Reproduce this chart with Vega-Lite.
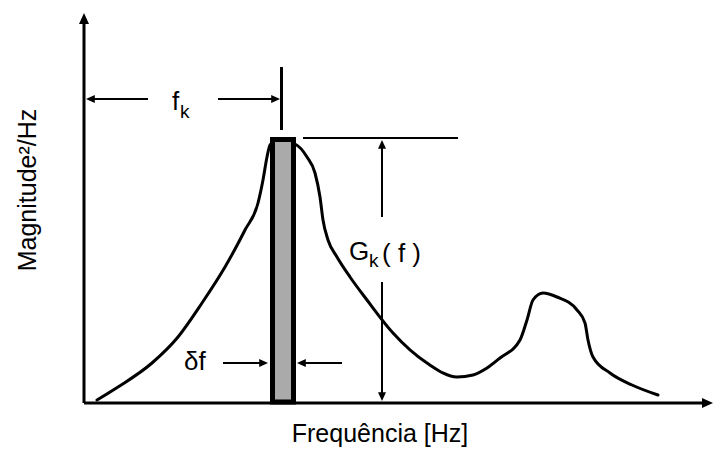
{
  "$schema": "https://vega.github.io/schema/vega-lite/v6.json",
  "width": 713,
  "height": 451,
  "padding": 0,
  "autosize": {"type": "fit", "contains": "padding"},
  "background": "white",
  "config": {"view": {"stroke": null}},
  "datasets": {
    "spectrum": [
      {"f": 13, "m": 3}, {"f": 34, "m": 16}, {"f": 68, "m": 40}, {"f": 94, "m": 66},
      {"f": 118, "m": 100}, {"f": 141, "m": 136}, {"f": 161, "m": 173}, {"f": 174, "m": 200},
      {"f": 179, "m": 223}, {"f": 183, "m": 246}, {"f": 186, "m": 258}, {"f": 191, "m": 262},
      {"f": 198, "m": 262}, {"f": 211, "m": 259}, {"f": 223, "m": 246}, {"f": 231, "m": 230},
      {"f": 236, "m": 206}, {"f": 239, "m": 183}, {"f": 244, "m": 163}, {"f": 253, "m": 146},
      {"f": 266, "m": 126}, {"f": 283, "m": 103}, {"f": 309, "m": 70}, {"f": 343, "m": 40},
      {"f": 373, "m": 26}, {"f": 389, "m": 28}, {"f": 403, "m": 35}, {"f": 416, "m": 45},
      {"f": 436, "m": 63}, {"f": 443, "m": 83}, {"f": 449, "m": 103}, {"f": 459, "m": 110},
      {"f": 473, "m": 106}, {"f": 493, "m": 93}, {"f": 501, "m": 80}, {"f": 504, "m": 63},
      {"f": 509, "m": 46}, {"f": 526, "m": 30}, {"f": 548, "m": 18}, {"f": 574, "m": 8}
    ],
    "band": [{"f": 188.5, "f2": 209.5, "m": 1, "m2": 263.5}],
    "axes": [
      {"f": 0, "m": 0, "f2": 0, "m2": 382},
      {"f": 0, "m": 0, "f2": 620, "m2": 0}
    ],
    "axisHeads": [
      {"f": 0, "m": 390, "dir": "up"},
      {"f": 629, "m": 0, "dir": "right"}
    ],
    "marker": [{"f": 197.5, "m": 273, "f2": 197.5, "m2": 336}],
    "guides": [
      {"f": 64, "m": 304, "f2": 6, "m2": 304},
      {"f": 134, "m": 304, "f2": 192, "m2": 304},
      {"f": 219, "m": 265, "f2": 374, "m2": 265},
      {"f": 298, "m": 186, "f2": 298, "m2": 258},
      {"f": 298, "m": 121, "f2": 298, "m2": 6},
      {"f": 139, "m": 40, "f2": 180, "m2": 40},
      {"f": 258, "m": 40, "f2": 217, "m2": 40}
    ],
    "guideHeads": [
      {"f": 2, "m": 304, "dir": "left"},
      {"f": 196, "m": 304, "dir": "right"},
      {"f": 298, "m": 263, "dir": "up"},
      {"f": 298, "m": 2, "dir": "down"},
      {"f": 184, "m": 40, "dir": "right"},
      {"f": 213, "m": 40, "dir": "left"}
    ],
    "labels": [
      {"f": 88, "m": 293, "text": "f", "role": "main"},
      {"f": 96, "m": 285, "text": "k", "role": "sub"},
      {"f": 265, "m": 143, "text": "G", "role": "main"},
      {"f": 285, "m": 136, "text": "k", "role": "sub"},
      {"f": 298, "m": 141, "text": "( f )", "role": "main"},
      {"f": 100, "m": 33, "text": "δf", "role": "main"}
    ],
    "titles": [
      {"f": 296, "m": -39, "text": "Frequência [Hz]"}
    ],
    "vtitles": [
      {"f": -48, "m": 213, "text": "Magnitude²/Hz"}
    ]
  },
  "encoding": {
    "x": {"field": "f", "type": "quantitative", "scale": {"domain": [-84, 629], "nice": false, "zero": false}, "axis": null},
    "y": {"field": "m", "type": "quantitative", "scale": {"domain": [-48, 403], "nice": false, "zero": false}, "axis": null}
  },
  "layer": [
    {
      "data": {"name": "spectrum"},
      "mark": {"type": "line", "interpolate": "monotone", "color": "black", "strokeWidth": 3, "strokeCap": "round", "strokeJoin": "round"}
    },
    {
      "data": {"name": "band"},
      "mark": {"type": "rect", "fill": "#aaaaaa", "stroke": "black", "strokeWidth": 5},
      "encoding": {
        "x2": {"field": "f2"},
        "y2": {"field": "m2"}
      }
    },
    {
      "data": {"name": "axes"},
      "mark": {"type": "rule", "color": "black", "strokeWidth": 3},
      "encoding": {"x2": {"field": "f2"}, "y2": {"field": "m2"}}
    },
    {
      "data": {"name": "axisHeads"},
      "mark": {"type": "point", "filled": true, "size": 100, "color": "black", "opacity": 1, "strokeWidth": 0},
      "encoding": {
        "shape": {"field": "dir", "type": "nominal", "legend": null,
          "scale": {"domain": ["left", "right", "up", "down"],
            "range": ["M0,0L2.2,-1L2.2,1Z", "M0,0L-2.2,-1L-2.2,1Z", "M0,0L-1,2.2L1,2.2Z", "M0,0L-1,-2.2L1,-2.2Z"]}}
      }
    },
    {
      "data": {"name": "marker"},
      "mark": {"type": "rule", "color": "black", "strokeWidth": 3},
      "encoding": {"x2": {"field": "f2"}, "y2": {"field": "m2"}}
    },
    {
      "data": {"name": "guides"},
      "mark": {"type": "rule", "color": "black", "strokeWidth": 2},
      "encoding": {"x2": {"field": "f2"}, "y2": {"field": "m2"}}
    },
    {
      "data": {"name": "guideHeads"},
      "mark": {"type": "point", "filled": true, "size": 64, "color": "black", "opacity": 1, "strokeWidth": 0},
      "encoding": {
        "shape": {"field": "dir", "type": "nominal", "legend": null,
          "scale": {"domain": ["left", "right", "up", "down"],
            "range": ["M0,0L2.2,-1L2.2,1Z", "M0,0L-2.2,-1L-2.2,1Z", "M0,0L-1,2.2L1,2.2Z", "M0,0L-1,-2.2L1,-2.2Z"]}}
      }
    },
    {
      "data": {"name": "labels"},
      "transform": [{"filter": "datum.role === 'main'"}],
      "mark": {"type": "text", "align": "left", "baseline": "alphabetic", "font": "Liberation Sans", "fontSize": 26, "color": "black"},
      "encoding": {"text": {"field": "text"}}
    },
    {
      "data": {"name": "labels"},
      "transform": [{"filter": "datum.role === 'sub'"}],
      "mark": {"type": "text", "align": "left", "baseline": "alphabetic", "font": "Liberation Sans", "fontSize": 19, "color": "black"},
      "encoding": {"text": {"field": "text"}}
    },
    {
      "data": {"name": "titles"},
      "mark": {"type": "text", "align": "center", "baseline": "alphabetic", "font": "Liberation Sans", "fontSize": 25, "color": "black"},
      "encoding": {"text": {"field": "text"}}
    },
    {
      "data": {"name": "vtitles"},
      "mark": {"type": "text", "align": "center", "baseline": "alphabetic", "angle": 270, "font": "Liberation Sans", "fontSize": 25, "color": "black"},
      "encoding": {"text": {"field": "text"}}
    }
  ]
}
